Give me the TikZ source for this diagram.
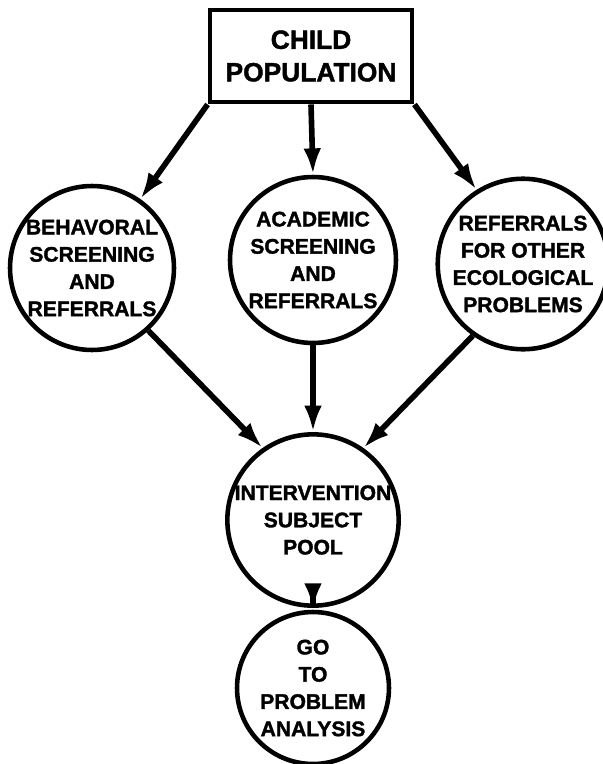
\documentclass[tikz,border=0pt]{standalone}
\usepackage{fontspec}
\setmainfont{Liberation Sans}
\newfontfamily\heavyfont[FakeBold=1.6]{Liberation Sans Bold}
\usetikzlibrary{arrows.meta}
\usetikzlibrary{positioning}

\tikzset{
    bubble/.style={draw, circle, line width=2.6pt, inner sep=0pt,
        align=center, font=\fontsize{12}{15.5}\selectfont\heavyfont},
    flow/.style={-{Latex[length=15pt, width=10pt]}, line width=3.2pt},
}

\begin{document}
\begin{tikzpicture}[x=0.02cm, y=-0.02cm]
                \useasboundingbox (0, 0) rectangle (602, 764);

                % top box
                \node[draw, line width=2.8pt, minimum width=4.04cm, minimum height=1.84cm,
                      align=center, font=\fontsize{15}{18.5}\selectfont\heavyfont]
                      (pop) at (311, 56) {CHILD\\POPULATION};

                % screening circles
                \node[bubble, minimum size=3.28cm](behav) at (92, 268)
                    {BEHAVORAL\\SCREENING\\AND\\REFERRALS};
                \node[bubble, minimum size=3.32cm](acad) at (313, 260)
                    {ACADEMIC\\SCREENING\\AND\\REFERRALS};
                \node[bubble, minimum size=3.16cm](other) at (523, 264)
                    {REFERRALS\\FOR OTHER\\ECOLOGICAL\\PROBLEMS};

                % pool and analysis
                \node[bubble, minimum size=3.26cm](pool) at (313, 520)
                    {INTERVENTION\\SUBJECT\\POOL};
                \node[bubble, minimum size=3.04cm](goto) at (313, 688)
                    {GO\\TO\\PROBLEM\\ANALYSIS};

                \draw[flow](pop.south west)--(behav.55);
                \draw[flow](pop.south)--(acad.north);
                \draw[flow](pop.south east)--(other.122);

                \draw[flow](behav.-48)--(pool.125);
                \draw[flow](acad.south)--(pool.north);
                \draw[flow](other.-125)--(pool.55);

                \draw[flow](pool.south)--(goto.north);
            \end{tikzpicture}
\end{document}
